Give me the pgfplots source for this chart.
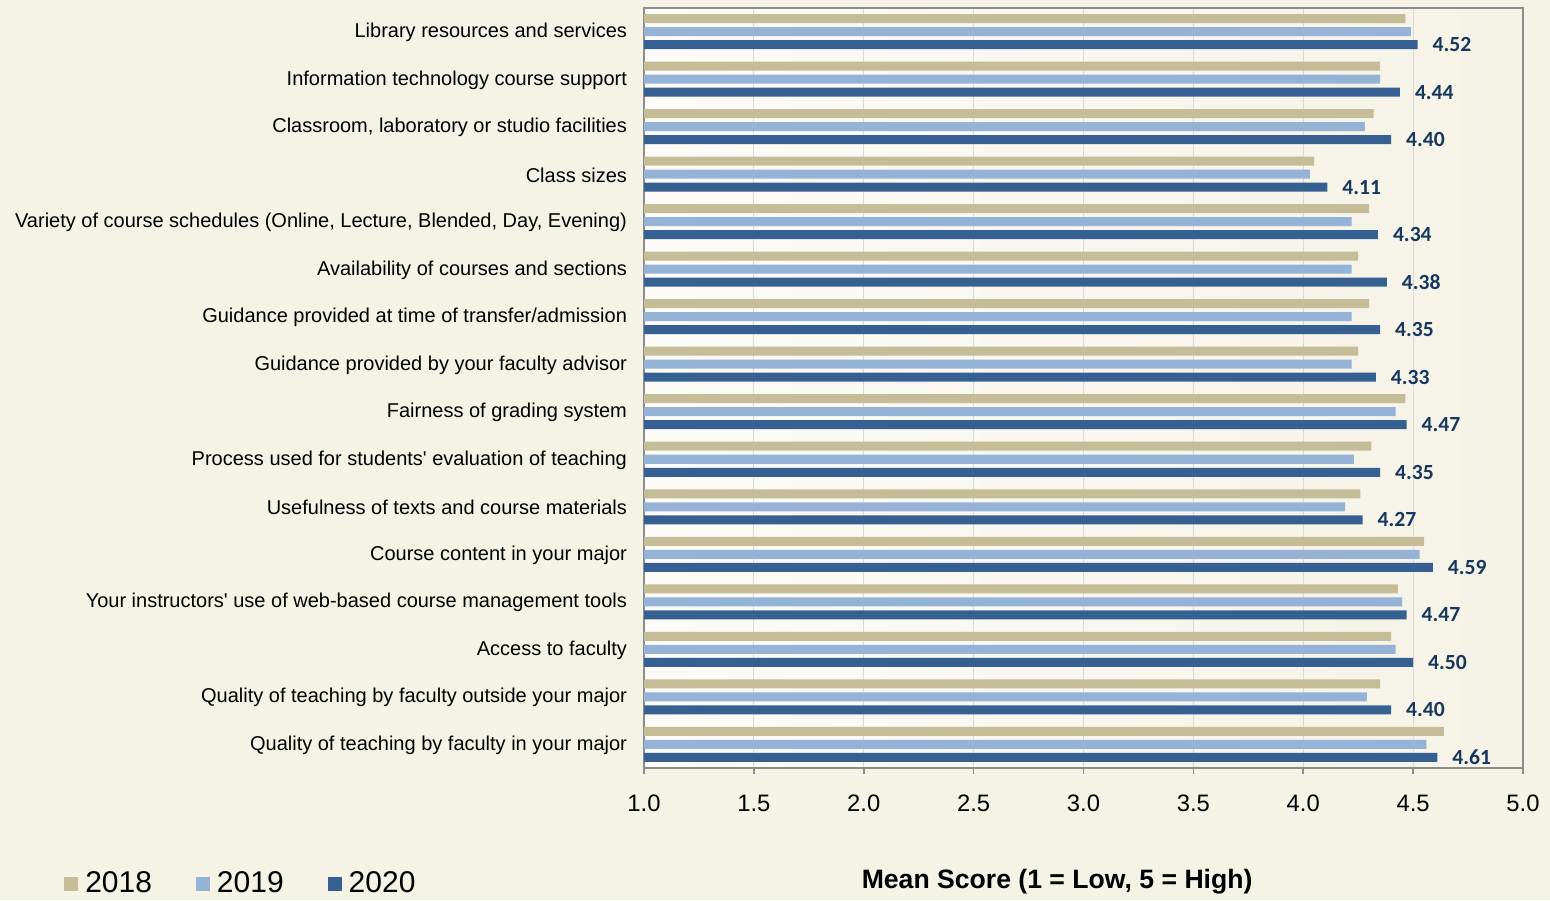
\documentclass[border=0pt]{standalone}
\usepackage{fontspec}
\setmainfont{Liberation Sans}
\newfontfamily\carlito{Carlito}
\usepackage{pgfplots}
\pgfplotsset{compat=1.18}
\definecolor{bg}{HTML}{F5F2E6}
\definecolor{plotL}{HTML}{FCFBF7}
\definecolor{plotR}{HTML}{F5F2E6}
\definecolor{c18}{HTML}{C4BD97}
\definecolor{c19}{HTML}{95B3D7}
\definecolor{c20}{HTML}{376092}
\definecolor{lab}{HTML}{17375E}
\definecolor{axgray}{HTML}{8C8C8C}
\definecolor{gridc}{HTML}{D9D9D9}
\begin{document}
\begin{tikzpicture}
\useasboundingbox (0,0) rectangle (775pt,450pt);
\fill[bg] (0,0) rectangle (775pt,450pt);
\begin{axis}[
  at={(322pt,446pt)}, anchor=north west,
  scale only axis, width=439.5pt, height=380pt,
  xbar, bar width=4.5pt,
  xmin=1, xmax=5, ymin=-0.5, ymax=15.5,
  axis background/.style={shade, left color=plotL, right color=plotR},
  xtick={1,1.5,2,2.5,3,3.5,4,4.5,5},
  /pgf/number format/assume math mode=true,
  xticklabel style={font=\fontsize{11.9}{14}\selectfont, yshift=-7pt, /pgf/number format/.cd, fixed, fixed zerofill, precision=1},
  xmajorgrids, grid style={gridc, line width=0.6pt},
  axis line style={axgray, line width=0.8pt},
  tick style={axgray, line width=0.8pt},
  xtick pos=bottom, xtick align=outside, major tick length=3pt,
  ytick={0,...,15},
  yticklabels={
    Quality of teaching by faculty in your major,
    Quality of teaching by faculty outside your major,
    Access to faculty,
    Your instructors\textquotesingle\ use of web-based course management tools,
    Course content in your major,
    Usefulness of texts and course materials,
    Process used for students\textquotesingle\ evaluation of teaching,
    Fairness of grading system,
    Guidance provided by your faculty advisor,
    Guidance provided at time of transfer/admission,
    Availability of courses and sections,
    {Variety of course schedules (Online, Lecture, Blended, Day, Evening)},
    Class sizes,
    {Classroom, laboratory or studio facilities},
    Information technology course support,
    Library resources and services},
  yticklabel style={font=\fontsize{10}{12}\selectfont, xshift=-2pt, yshift=-0.5pt},
  ytick style={draw=none},
  minor ytick={-0.5,0.5,...,15.5},
  minor y tick style={axgray, line width=0.8pt},
  ytick pos=left, ytick align=outside, minor tick length=2.5pt,
  xlabel={\bfseries Mean Score (1 = Low, 5 = High)},
  xlabel style={font=\fontsize{13.3}{16}\selectfont, at={(axis description cs:0.47,-0.149)}, anchor=center},
  legend style={at={(axis description cs:-0.66,-0.152)}, anchor=west, draw=none, fill=none,
    font=\fontsize{15}{18}\selectfont, inner sep=0pt,
    /tikz/every odd column/.append style={column sep=1.5pt},
    /tikz/every even column/.append style={column sep=20pt}},
  legend columns=3,
  legend image code/.code={\fill[#1] (0pt,-3.6pt) rectangle (7pt,3.4pt);},
  clip=true,
]
\addplot[fill=c18, draw=none, bar shift=6.5pt] coordinates {
 (4.64,0) (4.35,1) (4.40,2) (4.43,3) (4.55,4) (4.26,5) (4.31,6) (4.465,7)
 (4.25,8) (4.30,9) (4.25,10) (4.30,11) (4.05,12) (4.32,13) (4.35,14) (4.465,15)};
\addplot[fill=c19, draw=none, bar shift=0pt] coordinates {
 (4.56,0) (4.29,1) (4.42,2) (4.45,3) (4.53,4) (4.19,5) (4.23,6) (4.42,7)
 (4.22,8) (4.22,9) (4.22,10) (4.22,11) (4.03,12) (4.28,13) (4.35,14) (4.49,15)};
\addplot[fill=c20, draw=none, bar shift=-6.5pt,
  nodes near coords={\pgfmathprintnumber[fixed,fixed zerofill,precision=2]{\pgfplotspointmeta}},
  point meta=x,
  nodes near coords style={font=\carlito\bfseries\fontsize{10.8}{12}\selectfont, text=lab, anchor=west, xshift=4pt, yshift=0pt}]
  coordinates {
 (4.61,0) (4.40,1) (4.50,2) (4.47,3) (4.59,4) (4.27,5) (4.35,6) (4.47,7)
 (4.33,8) (4.35,9) (4.38,10) (4.34,11) (4.11,12) (4.40,13) (4.44,14) (4.52,15)};
\legend{2018,2019,2020}
\end{axis}
\end{tikzpicture}
\end{document}
